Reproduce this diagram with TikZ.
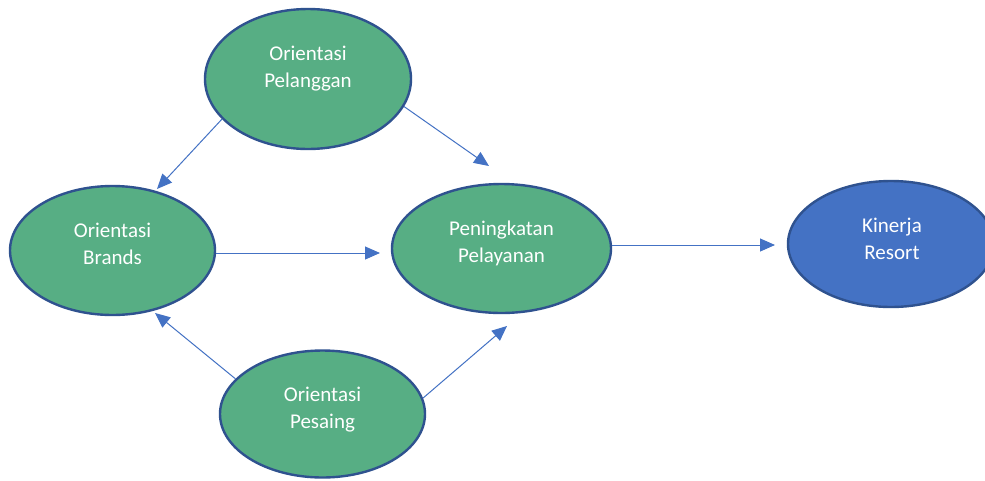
\documentclass[tikz,border=0pt]{standalone}
\usepackage{fontspec}
\setmainfont{Carlito}
\usetikzlibrary{arrows.meta,shapes.geometric}
\definecolor{gfill}{HTML}{57AE84}
\definecolor{bfill}{HTML}{4472C4}
\definecolor{outl}{HTML}{2F528F}
\definecolor{arrc}{HTML}{4472C4}
\tikzset{
  ell/.style={ellipse, draw=outl, line width=2.4pt, inner sep=0pt, fill=gfill},
  lbl/.style={text=white, align=center, font=\fontsize{21}{27}\selectfont, inner sep=0pt},
  arr/.style={draw=arrc, line width=1pt, -{Triangle[length=15pt,width=13pt]}},
}
\begin{document}
\begin{tikzpicture}[x=1pt,y=-1pt]
\clip (0,0) rectangle (985,480);
\fill[white] (0,0) rectangle (985,480);
\node[ell, minimum width=206pt, minimum height=140pt] (pel) at (308,79) {};
\node[ell, minimum width=205pt, minimum height=129pt] (bra) at (112.5,250.5) {};
\node[ell, minimum width=219pt, minimum height=129pt] (pen) at (501.5,248.5) {};
\node[ell, minimum width=205pt, minimum height=127pt] (pes) at (322.5,414) {};
\node[ell, fill=bfill, minimum width=206pt, minimum height=126pt] (kin) at (891,244) {};
\node[lbl] (tpel) at (308,69) {Orientasi\\Pelanggan};
\node[lbl] (tbra) at (112.5,244) {Orientasi\\Brands};
\node[lbl] (tpen) at (501.5,243) {Peningkatan\\Pelayanan};
\node[lbl] (tpes) at (322.5,409.5) {Orientasi\\Pesaing};
\node[lbl] (tkin) at (892,239) {Kinerja\\Resort};
\coordinate (t1) at (157,189);
\coordinate (t2) at (489,166);
\coordinate (t3) at (380,253);
\coordinate (t4) at (775,245);
\coordinate (t5) at (155,313);
\coordinate (t6) at (507,326);
\draw[arr] (pel.205.5) -- (t1);
\draw[arr] (pel.344.6) -- (t2);
\draw[arr] (bra.east |- t3) -- (t3);
\draw[arr] (pen.east |- t4) -- (t4);
\draw[arr] (pes.158.8) -- (t5);
\draw[arr] (pes.9.7) -- (t6);
\end{tikzpicture}
\end{document}
